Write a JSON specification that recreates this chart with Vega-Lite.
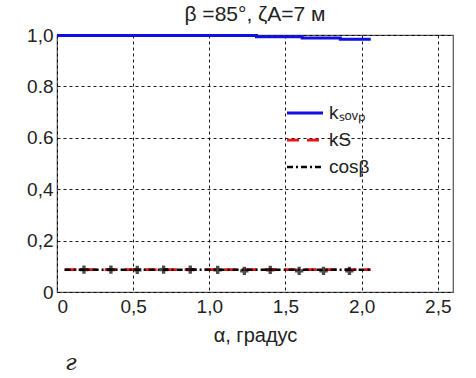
{
  "$schema": "https://vega.github.io/schema/vega-lite/v6.json",
  "autosize": "none",
  "width": 396,
  "height": 257,
  "padding": {"left": 57, "top": 35, "right": 23, "bottom": 86},
  "background": "white",
  "config": {
    "font": "Liberation Sans",
    "view": {"stroke": "#555555", "strokeWidth": 1.2},
    "axis": {
      "labelFont": "Liberation Sans", "labelFontSize": 19, "labelColor": "#222222",
      "titleFont": "Liberation Sans", "titleFontSize": 20, "titleFontWeight": "normal", "titleColor": "#222222",
      "grid": true, "gridColor": "#000000", "gridDash": [3, 3], "gridWidth": 1, "gridOpacity": 0.9,
      "domain": false, "tickColor": "#000000", "ticks": false
    }
  },
  "title": {"text": "β =85°, ζA=7 м", "fontSize": 21, "fontWeight": "normal", "font": "Liberation Sans", "color": "#222222", "offset": 1},
  "datasets": {
    "lines": [
      {"s": "ksovp", "x": 0.0, "y": 0.998},
      {"s": "ksovp", "x": 1.31, "y": 0.993},
      {"s": "ksovp", "x": 1.61, "y": 0.988},
      {"s": "ksovp", "x": 1.86, "y": 0.983},
      {"s": "ksovp", "x": 2.06, "y": 0.983},
      {"s": "kS", "x": 0.05, "y": 0.087},
      {"s": "kS", "x": 0.5, "y": 0.087},
      {"s": "kS", "x": 1.0, "y": 0.087},
      {"s": "kS", "x": 1.5, "y": 0.087},
      {"s": "kS", "x": 2.06, "y": 0.087},
      {"s": "cosβ", "x": 0.05, "y": 0.087},
      {"s": "cosβ", "x": 2.06, "y": 0.087}
    ],
    "marks": [
      {"x": 0.177, "y": 0.087},
      {"x": 0.354, "y": 0.087},
      {"x": 0.527, "y": 0.086},
      {"x": 0.70, "y": 0.087},
      {"x": 0.875, "y": 0.087},
      {"x": 1.055, "y": 0.086},
      {"x": 1.23, "y": 0.082},
      {"x": 1.40, "y": 0.086},
      {"x": 1.59, "y": 0.082},
      {"x": 1.75, "y": 0.082},
      {"x": 1.92, "y": 0.082}
    ],
    "letter": [{"x": 0.09, "y": -0.305, "t": "г"}]
  },
  "layer": [
    {
      "data": {"name": "lines"},
      "mark": {"type": "line", "interpolate": "step-after", "clip": false},
      "encoding": {
        "x": {"field": "x", "type": "quantitative", "scale": {"domain": [0, 2.5]},
          "axis": {"values": [0, 0.5, 1, 1.5, 2, 2.5], "title": "α, градус", "titlePadding": 9, "labelPadding": 5,
            "labelExpr": "datum.value == 0 ? '0' : replace(format(datum.value, '.1f'), '.', ',')"}},
        "y": {"field": "y", "type": "quantitative", "scale": {"domain": [0, 1]},
          "axis": {"values": [0, 0.2, 0.4, 0.6, 0.8, 1.0], "title": null, "labelPadding": 4,
            "labelExpr": "datum.value == 0 ? '0' : (abs(datum.value - 0.6) < 0.01 ? '0.6' : (abs(datum.value - 0.8) < 0.01 ? '0.8' : replace(format(datum.value, '.1f'), '.', ',')))"}},
        "color": {"field": "s", "type": "nominal",
          "scale": {"domain": ["ksovp", "kS", "cosβ"], "range": ["#1010e0", "#ee1111", "#000000"]},
          "legend": {"orient": "none", "legendX": 228, "legendY": 66, "title": null, "labelFontSize": 19, "labelFont": "Liberation Sans", "labelColor": "#222222", "symbolType": "stroke", "symbolSize": 1300, "symbolStrokeWidth": 2.5, "rowPadding": 3, "clipHeight": 24, "labelOffset": 4,
            "labelExpr": "datum.value == 'ksovp' ? 'kₛₒᵥₚ' : datum.value"}},
        "strokeDash": {"field": "s", "type": "nominal",
          "scale": {"domain": ["ksovp", "kS", "cosβ"], "range": [[1, 0], [12, 8], [6, 3, 2, 3]]},
          "legend": null},
        "strokeWidth": {"field": "s", "type": "nominal",
          "scale": {"domain": ["ksovp", "kS", "cosβ"], "range": [3, 2.5, 1.2]},
          "legend": null},
        "order": {"field": "x", "type": "quantitative"}
      }
    },
    {
      "data": {"name": "marks"},
      "mark": {"type": "point", "shape": "cross", "filled": true, "color": "#000000", "size": 70},
      "encoding": {
        "x": {"field": "x", "type": "quantitative"},
        "y": {"field": "y", "type": "quantitative"}
      }
    },
    {
      "data": {"name": "letter"},
      "mark": {"type": "text", "font": "DejaVu Serif", "fontStyle": "italic", "fontSize": 23, "baseline": "alphabetic", "clip": false, "color": "#222222"},
      "encoding": {
        "x": {"field": "x", "type": "quantitative"},
        "y": {"field": "y", "type": "quantitative"},
        "text": {"field": "t"}
      }
    }
  ]
}
